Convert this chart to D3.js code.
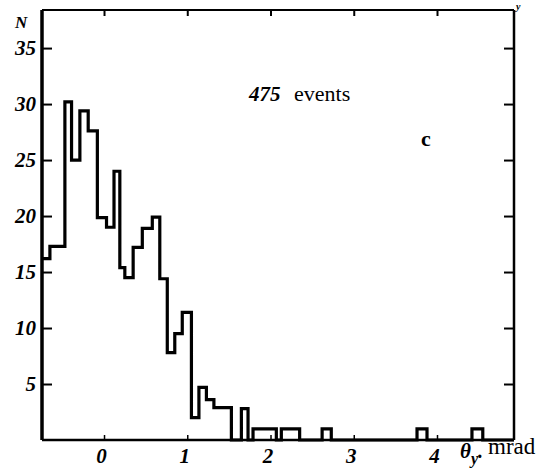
<!DOCTYPE html>
<html>
<head>
<meta charset="utf-8">
<script src="https://cdn.jsdelivr.net/npm/d3@7"></script>
<style>
  body { margin: 0; background: #fff; }
  .chart { width: 544px; height: 474px; }
  .num { font-family: 'Liberation Serif', serif; font-weight: bold; font-style: italic; }
  .roman { font-family: 'Liberation Serif', serif; }
</style>
</head>
<body>
<div class="chart"></div>
<script>
// bin edges in mrad, as drawn (irregular because the original is hand drawn)
const binEdges = [-0.745, -0.65, -0.47, -0.39, -0.29, -0.19, -0.08, 0.03, 0.12, 0.19, 0.25,
  0.35, 0.46, 0.58, 0.67, 0.76, 0.85, 0.94, 1.05, 1.14, 1.23, 1.32, 1.43, 1.53, 1.65,
  1.73, 1.79, 1.93, 2.07, 2.13, 2.25, 2.35, 2.62, 2.73, 3.76, 3.88, 4.42, 4.55, 4.925];
// N in each bin
const counts = [16.2, 17.3, 30.2, 25.0, 29.4, 27.6, 19.85, 19.0, 24.0, 15.4, 14.5,
  17.2, 18.9, 19.9, 14.4, 7.8, 9.5, 11.4, 2.0, 4.7, 3.6, 2.9, 2.9, 0,
  2.8, 0, 1, 1, 0, 1, 1, 0, 1, 0, 1, 0, 1, 0];
const xTicks = [0, 1, 2, 3, 4];
const yTicks = [5, 10, 15, 20, 25, 30, 35];
const xDomain = [-0.745, 4.925];
const yDomain = [0, 38.4];

function visualize() {

  const svg = d3.select('.chart')
    .append('svg')
    .attr('width', 544)
    .attr('height', 474);

  const margins = { left: 42, right: 30, top: 10, bottom: 34 };
  const width = 544 - margins.left - margins.right;
  const height = 474 - margins.top - margins.bottom;

  const mainG = svg.append('g')
    .attr('transform', `translate(${margins.left}, ${margins.top})`);

  const xScale = d3.scaleLinear().domain(xDomain).range([0, width]);
  const yScale = d3.scaleLinear().domain(yDomain).range([height, 0]);

  // frame
  mainG.append('line').attr('x1', 0).attr('x2', 0).attr('y1', 0).attr('y2', height)
    .style('stroke', '#000').style('stroke-width', 3.5);
  mainG.append('line').attr('x1', width).attr('x2', width).attr('y1', 0).attr('y2', height)
    .style('stroke', '#000').style('stroke-width', 2.5);
  mainG.append('line').attr('x1', 0).attr('x2', width).attr('y1', 0).attr('y2', 0)
    .style('stroke', '#000').style('stroke-width', 2);
  mainG.append('line').attr('x1', 0).attr('x2', width).attr('y1', height).attr('y2', height)
    .style('stroke', '#000').style('stroke-width', 2.5);

  // axes
  const yAxis = d3.axisLeft(yScale).tickValues(yTicks).tickSize(-10).tickPadding(6);
  const gy = mainG.append('g').classed('y-axis', true).call(yAxis);
  gy.select('.domain').remove();
  gy.selectAll('line').style('stroke-width', 2);
  gy.selectAll('text').attr('class', 'num').style('font-size', '21px');

  const yAxisR = d3.axisRight(yScale).tickValues(yTicks).tickSize(-10).tickFormat('');
  const gyr = mainG.append('g').attr('transform', `translate(${width}, 0)`).call(yAxisR);
  gyr.select('.domain').remove();
  gyr.selectAll('line').style('stroke-width', 2);

  const xAxis = d3.axisBottom(xScale).tickValues(xTicks).tickSize(-5).tickPadding(8)
    .tickFormat(d3.format('d'));
  const gx = mainG.append('g').attr('transform', `translate(0, ${height})`).call(xAxis);
  gx.select('.domain').remove();
  gx.selectAll('line').style('stroke-width', 1.5);
  gx.selectAll('text').attr('class', 'num').attr('dx', -3).style('font-size', '21px');

  const xAxisT = d3.axisTop(xScale).tickValues(xTicks).tickSize(-6).tickFormat('');
  const gxt = mainG.append('g').call(xAxisT);
  gxt.select('.domain').remove();
  gxt.selectAll('line').style('stroke-width', 2);

  // histogram outline
  const points = counts.map((c, i) => [binEdges[i], c]);
  points.push([binEdges[binEdges.length - 1], counts[counts.length - 1]]);
  const line = d3.line()
    .x(d => xScale(d[0]))
    .y(d => yScale(d[1]))
    .curve(d3.curveStepAfter);
  mainG.append('path')
    .datum(points)
    .attr('d', line)
    .style('fill', 'none')
    .style('stroke', '#000')
    .style('stroke-width', 3.2)
    .style('stroke-linejoin', 'miter');

  // labels
  svg.append('text').attr('class', 'num').attr('x', 15).attr('y', 28)
    .style('font-size', '17px').text('N');
  svg.append('text').attr('class', 'num').attr('x', 516).attr('y', 10)
    .style('font-size', '10px').text('y');

  svg.append('text').attr('class', 'num').attr('x', 249).attr('y', 101)
    .style('font-size', '21px').text('475');
  svg.append('text').attr('class', 'roman').attr('x', 294).attr('y', 101)
    .style('font-size', '22px').text('events');

  svg.append('text').attr('class', 'roman').attr('x', 421).attr('y', 146)
    .style('font-size', '22px').style('font-weight', 'bold').text('c');

  const ax = svg.append('text').attr('x', 460).attr('y', 458);
  ax.append('tspan').attr('class', 'num').style('font-size', '21px').text('θ');
  ax.append('tspan').attr('class', 'num').style('font-size', '16px').attr('dy', 6).text('y');
  ax.append('tspan').attr('class', 'num').style('font-size', '20px').attr('dy', -6).text('.');
  svg.append('text').attr('class', 'roman').attr('x', 488).attr('y', 454)
    .style('font-size', '23px').text('mrad');
}

visualize();
</script>
</body>
</html>
